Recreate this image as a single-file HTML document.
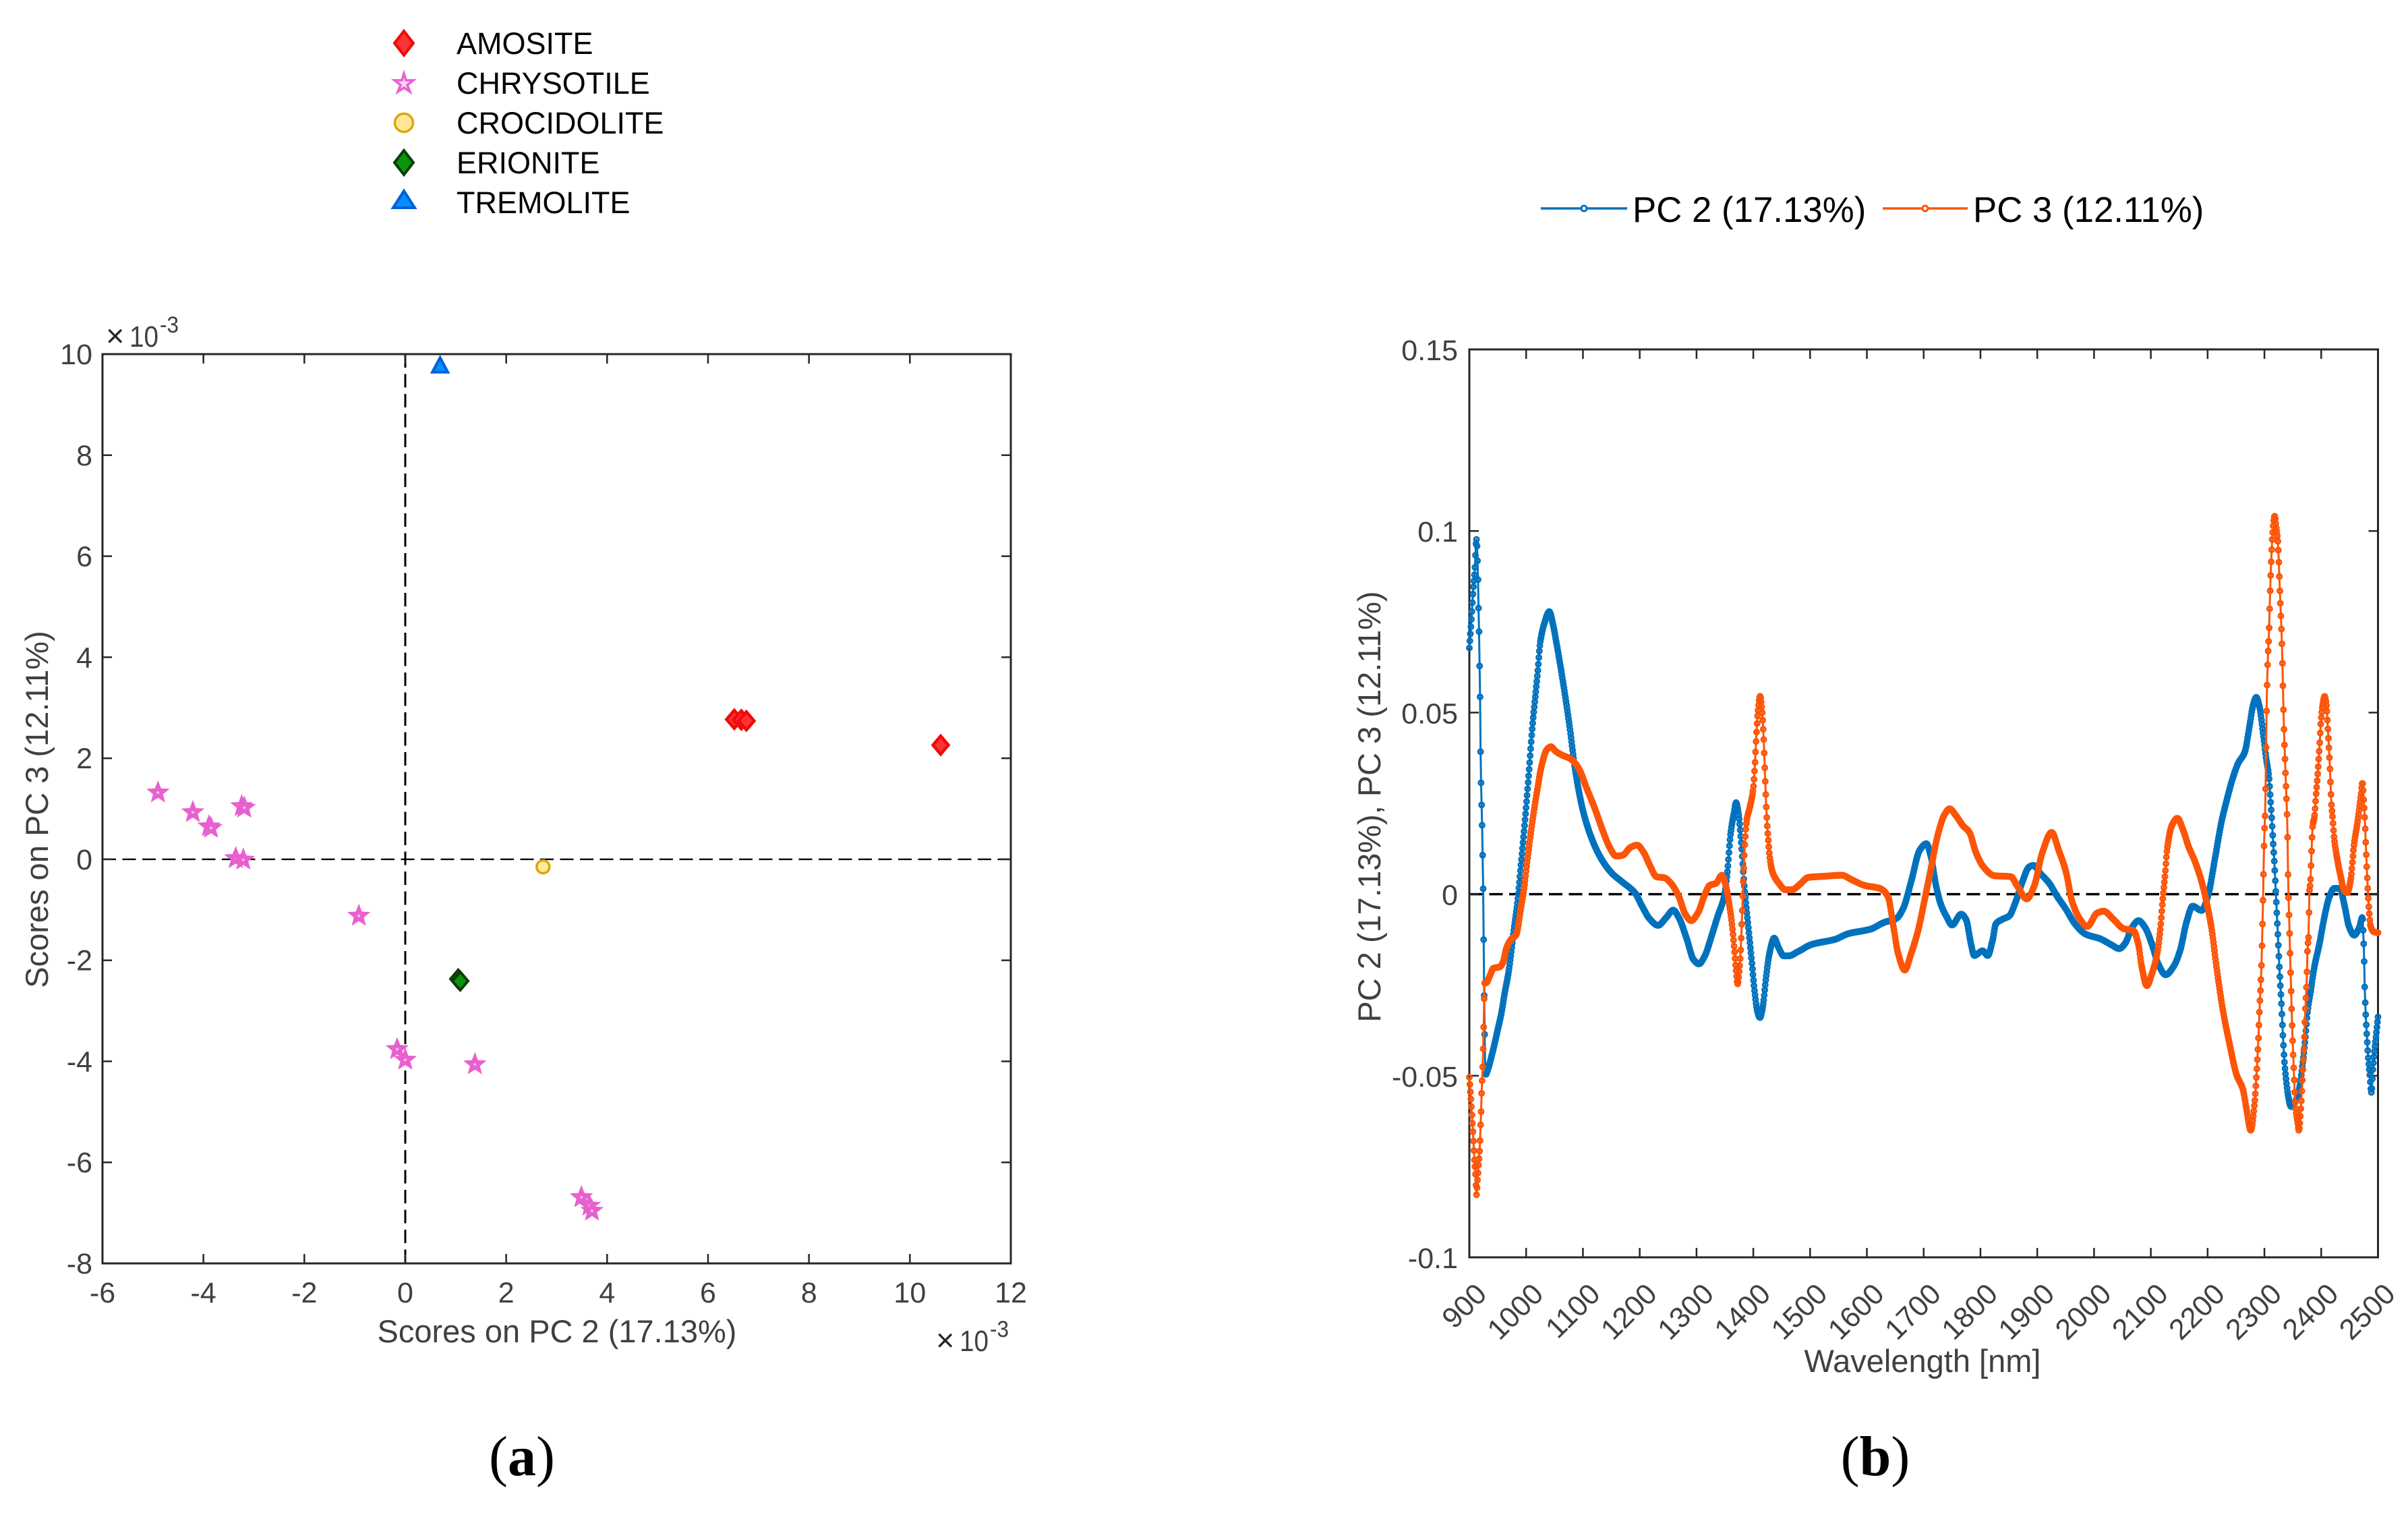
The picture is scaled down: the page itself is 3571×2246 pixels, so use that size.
<!DOCTYPE html>
<html lang="en">
<head>
<meta charset="utf-8">
<title>PCA scores and loadings</title>
<style>
html,body{margin:0;padding:0;background:#fff;}
svg{display:block;font-family:"Liberation Sans",sans-serif;}
.tick{font-size:43px;fill:#404040;}
.axt{font-size:47px;fill:#404040;}
.leg{font-size:45px;fill:#000;}
.leg2{font-size:52.8px;fill:#000;}
.cap{font-family:"Liberation Serif",serif;font-size:84px;fill:#000;}
.expb{font-size:44px;fill:#404040;}
.expx{font-size:47px;fill:#262626;}
.expe{font-size:34px;fill:#404040;}
</style>
</head>
<body>
<svg id="fig" xmlns="http://www.w3.org/2000/svg" width="3571" height="2246" viewBox="0 0 3571 2246">
<rect x="0" y="0" width="3571" height="2246" fill="#fff"/>
<g id="leftPlot"></g>
<g id="rightPlot"></g>

<text class="axt" x="826" y="1990" text-anchor="middle">Scores on PC 2 (17.13%)</text>
<text class="axt" transform="translate(71,1200) rotate(-90)" text-anchor="middle">Scores on PC 3 (12.11%)</text>

<g>
<text class="expx" x="157" y="514">×</text>
<text class="expb" x="192" y="514" textLength="43" lengthAdjust="spacingAndGlyphs">10</text>
<text class="expe" x="237" y="493" textLength="28" lengthAdjust="spacingAndGlyphs">-3</text>
</g>
<g>
<text class="expx" x="1388" y="2003">×</text>
<text class="expb" x="1423" y="2003" textLength="43" lengthAdjust="spacingAndGlyphs">10</text>
<text class="expe" x="1468" y="1982" textLength="28" lengthAdjust="spacingAndGlyphs">-3</text>
</g>

<text class="axt" x="2851" y="2034" text-anchor="middle">Wavelength [nm]</text>
<text class="axt" transform="translate(2047,1196) rotate(-90)" text-anchor="middle">PC 2 (17.13%), PC 3 (12.11%)</text>

<g>
<text class="leg" x="677" y="80">AMOSITE</text>
<text class="leg" x="677" y="139">CHRYSOTILE</text>
<text class="leg" x="677" y="198">CROCIDOLITE</text>
<text class="leg" x="677" y="257">ERIONITE</text>
<text class="leg" x="677" y="316">TREMOLITE</text>
<polygon points="599,46 613,64 599,82 585,64" fill="#ff3333" stroke="#f00a0a" stroke-width="4"/>
<polygon points="599,109 602,119 613,119 604,126 608,136 599,130 590,136 594,126 585,119 596,119" fill="#fbd5f5" stroke="#e860d0" stroke-width="3.5"/>
<ellipse cx="599" cy="182" rx="13.5" ry="13.5" fill="#ffe89a" stroke="#dca50a" stroke-width="3.5"/>
<polygon points="599,223 613,241 599,259 585,241" fill="#0a950a" stroke="#0c3d0c" stroke-width="4"/>
<polygon points="599,283 615,308 583,308" fill="#0090ff" stroke="#0060d8" stroke-width="4"/>
</g>

<g>
<line x1="2285" y1="309" x2="2413" y2="309" stroke="#0072BD" stroke-width="3.5"/>
<circle cx="2349" cy="309" r="4" fill="#fff" stroke="#0072BD" stroke-width="3"/>
<text class="leg2" x="2421" y="329">PC 2 (17.13%)</text>
<line x1="2792" y1="309" x2="2918" y2="309" stroke="#FC5508" stroke-width="3.5"/>
<circle cx="2855" cy="309" r="4" fill="#fff" stroke="#FC5508" stroke-width="3"/>
<text class="leg2" x="2926" y="329">PC 3 (12.11%)</text>
</g>

<text class="cap" x="774" y="2187" text-anchor="middle">(<tspan font-weight="bold">a</tspan>)</text>
<text class="cap" x="2781" y="2187" text-anchor="middle">(<tspan font-weight="bold">b</tspan>)</text>
</svg>

<script>
// ---------- Panel (a) scores, in units of 1e-3 ----------
const scoreXTicks = [-6,-4,-2,0,2,4,6,8,10,12];
const scoreYTicks = [-8,-6,-4,-2,0,2,4,6,8,10];
const amositeX = [6.52,6.66,6.76,10.61];
const amositeY = [2.77,2.76,2.74,2.26];
const chrysotileX = [-4.90,-4.21,-3.89,-3.85,-3.24,-3.19,-3.36,-3.21,-0.92,-0.16,0,1.38,3.49,3.65,3.70];
const chrysotileY = [1.32,0.93,0.65,0.62,1.05,1.02,0.02,-0.01,-1.12,-3.76,-3.97,-4.06,-6.69,-6.86,-6.96];
const crocidoliteX = [2.73];
const crocidoliteY = [-0.15];
const erioniteX = [1.05,1.09];
const erioniteY = [-2.37,-2.41];
const tremoliteX = [0.69];
const tremoliteY = [9.77];

// ---------- Panel (b) loadings ----------
const waveTicks = [900,1000,1100,1200,1300,1400,1500,1600,1700,1800,1900,2000,2100,2200,2300,2400,2500];
const loadingTicks = [-0.1,-0.05,0,0.05,0.1,0.15];
const loadingTickLabels = ["-0.1","-0.05","0","0.05","0.1","0.15"];

const pc2Wave = [900,904,906.8,909.6,912.5,915.3,916,917,917.6,918.7,919.2,919.8,920.9,922.6,923.8,924.9,925.5,926.6,928,929,931,940.6,948.7,956.6,962.5,968.5,972.6,978.3,985,990.8,999.3,1005,1010.7,1020.3,1025,1032,1040.8,1047,1053,1061.8,1076,1087.4,1101.6,1118.6,1135.6,1152.7,1169.7,1192.4,1203.8,1218,1232.2,1246.4,1259,1269,1283,1294.7,1304.3,1314.6,1326,1337,1348.6,1354,1360,1365.7,1369.7,1374,1378.8,1384.4,1391,1397,1402.6,1407,1411.7,1416.8,1422.5,1428,1436.7,1445,1453.7,1462,1479,1502,1544.6,1567,1607,1630,1652,1664,1678,1693,1704.7,1713,1722,1730,1739.7,1750,1766,1774.7,1783.5,1789,1804,1812.7,1821.5,1827,1839,1850.7,1862,1874,1885.7,1893,1906,1920.7,1935,1950,1967,1985,2011,2029,2044.5,2055,2066.7,2078.4,2090,2102,2113.5,2126,2139.7,2151.4,2163,2173.6,2189.4,2201,2212.7,2224.4,2233,2245,2253.6,2265.3,2274,2280,2285.7,2291.6,2297.4,2303.3,2308,2310.3,2313,2315,2318,2320.8,2323.7,2326.6,2330,2332.5,2335,2338,2342,2347,2353,2361.7,2367.5,2372,2376,2382,2388,2396.7,2405.5,2414,2423,2433,2440.5,2449,2458,2467,2472.6,2474.4,2475.5,2476.7,2478.5,2480.8,2483,2485.5,2488.4,2491,2494,2497,2500];
const pc2Values = [0.0678,0.0766,0.0838,0.0892,0.0977,0.0866,0.0802,0.0733,0.0659,0.0574,0.0486,0.0392,0.0291,0.0182,0.0065,-0.006,-0.0194,-0.0337,-0.048,-0.0497,-0.049,-0.0437,-0.0382,-0.0326,-0.027,-0.022,-0.0174,-0.0099,-0.0019,0.0079,0.0227,0.0338,0.0455,0.0611,0.0695,0.0745,0.0778,0.0745,0.0695,0.0615,0.0468,0.0332,0.0221,0.0141,0.0089,0.0055,0.0033,0.0002,-0.0032,-0.0069,-0.0086,-0.0065,-0.0044,-0.0065,-0.0124,-0.018,-0.0192,-0.017,-0.0118,-0.0062,-0.0007,0.0055,0.0166,0.0221,0.0252,0.0221,0.0141,0.0018,-0.0087,-0.018,-0.0272,-0.0321,-0.034,-0.0309,-0.0229,-0.0167,-0.0121,-0.0149,-0.017,-0.017,-0.0158,-0.0139,-0.0124,-0.0109,-0.0096,-0.0078,-0.0067,-0.0039,0.0035,0.0121,0.0139,0.0102,0.0022,-0.0027,-0.006,-0.0085,-0.0055,-0.007,-0.0138,-0.0169,-0.0156,-0.0169,-0.0126,-0.0082,-0.0069,-0.006,-0.0021,0.0035,0.0075,0.0079,0.0056,0.0031,-0.0006,-0.004,-0.0083,-0.011,-0.0123,-0.0138,-0.015,-0.0135,-0.0092,-0.0073,-0.0092,-0.0138,-0.0194,-0.0222,-0.02,-0.0156,-0.0076,-0.0033,-0.0045,-0.0002,0.0096,0.0199,0.0255,0.0323,0.036,0.0391,0.0465,0.052,0.0542,0.0514,0.0446,0.0372,0.0323,0.027,0.0206,0.0152,0.0072,-0.0018,-0.0113,-0.0209,-0.0304,-0.0385,-0.0456,-0.0508,-0.0557,-0.0585,-0.0576,-0.0533,-0.0465,-0.0397,-0.0323,-0.0261,-0.02,-0.0138,-0.0064,-0.0009,0.0016,0.0016,-0.0027,-0.0089,-0.0113,-0.0092,-0.0064,-0.012,-0.0172,-0.0261,-0.0335,-0.04,-0.0453,-0.0496,-0.0546,-0.0483,-0.0428,-0.0385,-0.0338];

const pc3Wave = [900,901,902,903,904,905,906,907,908,909,910.5,911.5,912.5,914,915,916,917.3,918.5,919.3,920,921,921.7,923,924,925,925.7,927,930,935.7,942.5,954,959.6,965.2,973.8,982.3,990.8,996.5,1002,1010.7,1019.2,1027.7,1036,1043.6,1051.6,1061.8,1078.8,1093,1107,1121.4,1135.6,1147,1158.4,1169.7,1184,1195.3,1206.6,1218,1229.4,1243.6,1255,1269,1280.5,1290.7,1303,1314.6,1323,1334.4,1344.7,1351.5,1358,1362.8,1366.8,1369.7,1372.5,1375.3,1377.6,1380,1382.7,1385,1388.4,1394,1399.8,1402.6,1405.4,1408,1412,1415,1418,1420.8,1423.6,1426.5,1429.3,1433.8,1445,1456.6,1468,1482,1496.3,1522,1556,1573,1596,1624,1637.5,1646,1655,1666.7,1678,1690,1701.7,1713,1725,1737,1745.5,1757,1769,1780.6,1792,1804,1824,1853.6,1865,1881.6,1894.5,1909,1925.4,1938,1950,1961.6,1973.3,1988,2005.4,2017,2034.6,2052,2069.7,2078,2084,2093,2102,2110.5,2116.4,2121,2125,2129,2137,2146.7,2157,2166,2177.7,2189.4,2198,2207,2215.6,2227.3,2239,2250.7,2262.4,2268,2276,2283,2285.7,2288.7,2291.6,2294.5,2296.3,2298,2299.7,2301.5,2302.7,2304,2306,2308,2309,2310,2312,2314,2318,2320.8,2323.7,2325.5,2327,2329,2331,2332.5,2334,2336.5,2338,2339.5,2340.6,2341.8,2344,2346,2348,2350,2352,2354.6,2358.7,2360.5,2364.5,2367.5,2370,2372,2374.5,2376,2378,2379,2381,2383,2385,2388,2391,2394,2397,2399.6,2402.5,2406,2409.5,2411,2413,2415,2416.6,2418,2420,2423,2429,2434.6,2440.5,2446,2452,2458,2464,2470,2472.6,2475,2477,2478.5,2481.4,2484,2487,2493,2500];
const pc3Values = [-0.0504,-0.0526,-0.0549,-0.0571,-0.0595,-0.0621,-0.0646,-0.0674,-0.0703,-0.0732,-0.0763,-0.0794,-0.0828,-0.0795,-0.0775,-0.075,-0.0724,-0.0693,-0.0661,-0.0625,-0.0586,-0.0543,-0.0495,-0.0442,-0.0383,-0.0318,-0.0245,-0.0244,-0.0226,-0.0204,-0.02,-0.0186,-0.0149,-0.0124,-0.0112,-0.0038,0.0018,0.0092,0.0197,0.0283,0.0357,0.0397,0.0406,0.0394,0.0384,0.0372,0.0345,0.029,0.0234,0.0172,0.0129,0.0105,0.0107,0.0129,0.0135,0.0116,0.0079,0.0048,0.0045,0.003,-0.0007,-0.0056,-0.0073,-0.005,-0.0001,0.0024,0.003,0.0052,0.0024,-0.0032,-0.0087,-0.0155,-0.021,-0.0247,-0.021,-0.0161,-0.0068,0.0049,0.0135,0.0203,0.024,0.0289,0.0351,0.0437,0.0499,0.0545,0.0511,0.0437,0.032,0.0215,0.0147,0.0098,0.0061,0.003,0.0012,0.0012,0.0027,0.0046,0.0049,0.0052,0.004,0.0024,0.0015,-0.0008,-0.0082,-0.0163,-0.0209,-0.0163,-0.0101,-0.0015,0.0072,0.0164,0.022,0.0235,0.0216,0.0189,0.017,0.0115,0.0078,0.0051,0.0048,0.0022,-0.0013,0.0022,0.0115,0.017,0.012,0.0065,-0.0021,-0.0064,-0.0089,-0.0052,-0.0047,-0.007,-0.0095,-0.0101,-0.0138,-0.02,-0.0252,-0.0218,-0.0169,-0.0101,-0.0015,0.0053,0.0127,0.0189,0.0209,0.0176,0.0133,0.009,0.0035,-0.0021,-0.0095,-0.02,-0.0323,-0.0415,-0.0496,-0.0539,-0.0588,-0.065,-0.057,-0.0508,-0.0422,-0.0311,-0.0212,-0.0104,0.0019,0.0158,0.0236,0.0378,0.052,0.065,0.0717,0.0773,0.0829,0.0918,0.0983,0.1041,0.101,0.097,0.0911,0.0844,0.0767,0.068,0.0582,0.0477,0.036,0.0298,0.0237,0.0167,0.0038,-0.0089,-0.0209,-0.032,-0.0416,-0.0496,-0.0582,-0.0631,-0.065,-0.0582,-0.049,-0.041,-0.0323,-0.0237,-0.015,-0.0107,0,0.0035,0.0118,0.0189,0.0212,0.0274,0.0335,0.0406,0.0477,0.052,0.0545,0.0514,0.0477,0.0421,0.036,0.0298,0.0249,0.0212,0.0152,0.009,0.0047,0.001,0.0004,0.0041,0.0139,0.0199,0.0273,0.0307,0.0255,0.0199,0.0139,0.0035,-0.0039,-0.0088,-0.0104,-0.0106];

// ---------- Axis functions ----------
const SVGNS = "http://www.w3.org/2000/svg";
const LEFT = {l:152, r:1499, t:525, b:1873};
const RIGHT = {l:2179, r:3526.5, t:518, b:1864};
function xScore(v){ return LEFT.l + (v - (-6)) / 18 * (LEFT.r - LEFT.l); }
function yScore(v){ return LEFT.b - (v - (-8)) / 18 * (LEFT.b - LEFT.t); }
function xWave(w){ return RIGHT.l + (w - 900) / 1600 * (RIGHT.r - RIGHT.l); }
function yLoad(v){ return RIGHT.b - (v - (-0.1)) / 0.25 * (RIGHT.b - RIGHT.t); }

function make(tag, attrs, parent){
  const el = document.createElementNS(SVGNS, tag);
  for (const k in attrs) el.setAttribute(k, attrs[k]);
  parent.appendChild(el);
  return el;
}

const AXIS_COLOR = "#262626";

function drawBox(parent, box){
  const frame = make("rect", {x:box.l, y:box.t, width:box.r-box.l, height:box.b-box.t, fill:"none", stroke:AXIS_COLOR, "stroke-width":3}, parent);
  
  
}
function drawXTick(parent, box, px){
  const a = make("line", {x1:px, x2:px, y1:box.b, y2:box.b-14, stroke:AXIS_COLOR, "stroke-width":2.5}, parent);
  
  
  const b = make("line", {x1:px, x2:px, y1:box.t, y2:box.t+14, stroke:AXIS_COLOR, "stroke-width":2.5}, parent);
  
  
}
function drawYTick(parent, box, py){
  const a = make("line", {x1:box.l, x2:box.l+14, y1:py, y2:py, stroke:AXIS_COLOR, "stroke-width":2.5}, parent);
  
  
  const b = make("line", {x1:box.r, x2:box.r-14, y1:py, y2:py, stroke:AXIS_COLOR, "stroke-width":2.5}, parent);
  
  
}
function drawLabel(parent, str, x, y, anchor, transform){
  const t = make("text", {class:"tick", x:x, y:y, "text-anchor":anchor}, parent);
  if (transform) t.setAttribute("transform", transform);
  
  
  t.textContent = str;
}
function drawDash(parent, x1, y1, x2, y2, w){
  const d = make("line", {x1:x1, y1:y1, x2:x2, y2:y2, stroke:"#000", "stroke-width":w, "stroke-dasharray":"20 9.5"}, parent);
  
  
}

// ---------- Panel (a) ----------
const leftG = document.getElementById("leftPlot");
drawDash(leftG, xScore(0), LEFT.t, xScore(0), LEFT.b, 3);
drawDash(leftG, LEFT.l, yScore(0), LEFT.r, yScore(0), 2.4);
drawBox(leftG, LEFT);
scoreXTicks.forEach(function(v){
  if (v > -6 && v < 12) drawXTick(leftG, LEFT, xScore(v));
  drawLabel(leftG, String(v), xScore(v), 1931, "middle");
});
scoreYTicks.forEach(function(v){
  if (v > -8 && v < 10) drawYTick(leftG, LEFT, yScore(v));
  drawLabel(leftG, String(v), 137, yScore(v)+15, "end");
});

function diamondPts(x,y){ return [x,y-13.5, x+11.5,y, x,y+13.5, x-11.5,y].join(","); }
function trianglePts(x,y){ return [x,y-12, x+11.5,y+9.5, x-11.5,y+9.5].join(","); }
function starPts(x,y){
  const pts = [];
  for (let i = 0; i < 10; i++){
    const rad = i % 2 === 0 ? 10.5 : 4.5;
    const ang = -Math.PI/2 + i*Math.PI/5;
    pts.push((x+rad*Math.cos(ang)).toFixed(1), (y+rad*Math.sin(ang)).toFixed(1));
  }
  return pts.join(",");
}

const amositeG = make("g", {}, leftG);


amositeX.forEach(function(v,i){
  const m = make("polygon", {points:diamondPts(xScore(v), yScore(amositeY[i])), fill:"#ff3333", stroke:"#f00a0a", "stroke-width":4.5}, amositeG);
  
  
});
const chrysotileG = make("g", {}, leftG);


chrysotileX.forEach(function(v,i){
  const m = make("polygon", {points:starPts(xScore(v), yScore(chrysotileY[i])), fill:"#fbd5f5", stroke:"#e860d0", "stroke-width":5.5}, chrysotileG);
  
  
});
const crocidoliteG = make("g", {}, leftG);


crocidoliteX.forEach(function(v,i){
  const m = make("circle", {cx:xScore(v), cy:yScore(crocidoliteY[i]), r:9.5, fill:"#ffe89a", stroke:"#dca50a", "stroke-width":3.5}, crocidoliteG);
  
  
});
const erioniteG = make("g", {}, leftG);


erioniteX.forEach(function(v,i){
  const m = make("polygon", {points:diamondPts(xScore(v), yScore(erioniteY[i])), fill:"#0a950a", stroke:"#0c3d0c", "stroke-width":4}, erioniteG);
  
  
});
const tremoliteG = make("g", {}, leftG);


tremoliteX.forEach(function(v,i){
  const m = make("polygon", {points:trianglePts(xScore(v), yScore(tremoliteY[i])), fill:"#0090ff", stroke:"#0060d8", "stroke-width":4}, tremoliteG);
  
  
});

// ---------- Panel (b) ----------
const rightG = document.getElementById("rightPlot");
drawDash(rightG, RIGHT.l, yLoad(0), RIGHT.r, yLoad(0), 3.5);
drawBox(rightG, RIGHT);
waveTicks.forEach(function(w){
  if (w > 900 && w < 2500) drawXTick(rightG, RIGHT, xWave(w));
  const ax = xWave(w) + 28;
  const ay = 1921;
  drawLabel(rightG, String(w), ax, ay, "end", "rotate(-45 " + ax + " " + ay + ")");
});
loadingTicks.forEach(function(v,i){
  if (i > 0 && i < loadingTicks.length-1) drawYTick(rightG, RIGHT, yLoad(v));
  drawLabel(rightG, loadingTickLabels[i], 2162, yLoad(v)+16, "end");
});

// Monotone cubic curve through the values (no overshoot at peaks).
function monotoneCurve(xs, ys){
  const n = xs.length, d = [], m = [];
  for (let i = 0; i < n-1; i++) d.push((ys[i+1]-ys[i])/(xs[i+1]-xs[i]));
  m[0] = d[0]; m[n-1] = d[n-2];
  for (let i = 1; i < n-1; i++){
    if (d[i-1]*d[i] <= 0) m[i] = 0;
    else {
      const h0 = xs[i]-xs[i-1], h1 = xs[i+1]-xs[i];
      m[i] = 3*(h0+h1) / ((2*h1+h0)/d[i-1] + (h1+2*h0)/d[i]);
    }
  }
  return function(x){
    let i = 0;
    while (i < n-2 && x > xs[i+1]) i++;
    const h = xs[i+1]-xs[i], t = (x-xs[i])/h, t2 = t*t, t3 = t2*t;
    return (2*t3-3*t2+1)*ys[i] + (t3-2*t2+t)*h*m[i] + (-2*t3+3*t2)*ys[i+1] + (t3-t2)*h*m[i+1];
  };
}

const SAMPLE_NM = 0.9;
function drawSpectrum(waves, values, color, seriesName, pointName){
  const g = make("g", {}, rightG);
  
  
  const f = monotoneCurve(waves, values);
  const first = waves[0], last = waves[waves.length-1];
  const pts = [];
  const count = Math.round((last-first)/SAMPLE_NM);
  for (let k = 0; k <= count; k++){
    const w = first + (last-first)*k/count;
    pts.push([xWave(w), yLoad(f(w))]);
  }
  const line = make("polyline", {points:pts.map(function(p){return p[0].toFixed(1)+","+p[1].toFixed(1);}).join(" "), fill:"none", stroke:color, "stroke-width":3, "stroke-linejoin":"round"}, g);
  
  
  pts.forEach(function(p){
    const c = make("circle", {cx:p[0].toFixed(1), cy:p[1].toFixed(1), r:3.5, fill:"none", stroke:color, "stroke-width":3}, g);
    
    
  });
}
drawSpectrum(pc2Wave, pc2Values, "#0072BD", "pc2-series", "pc2-point");
drawSpectrum(pc3Wave, pc3Values, "#FC5508", "pc3-series", "pc3-point");
</script>
</body>
</html>
